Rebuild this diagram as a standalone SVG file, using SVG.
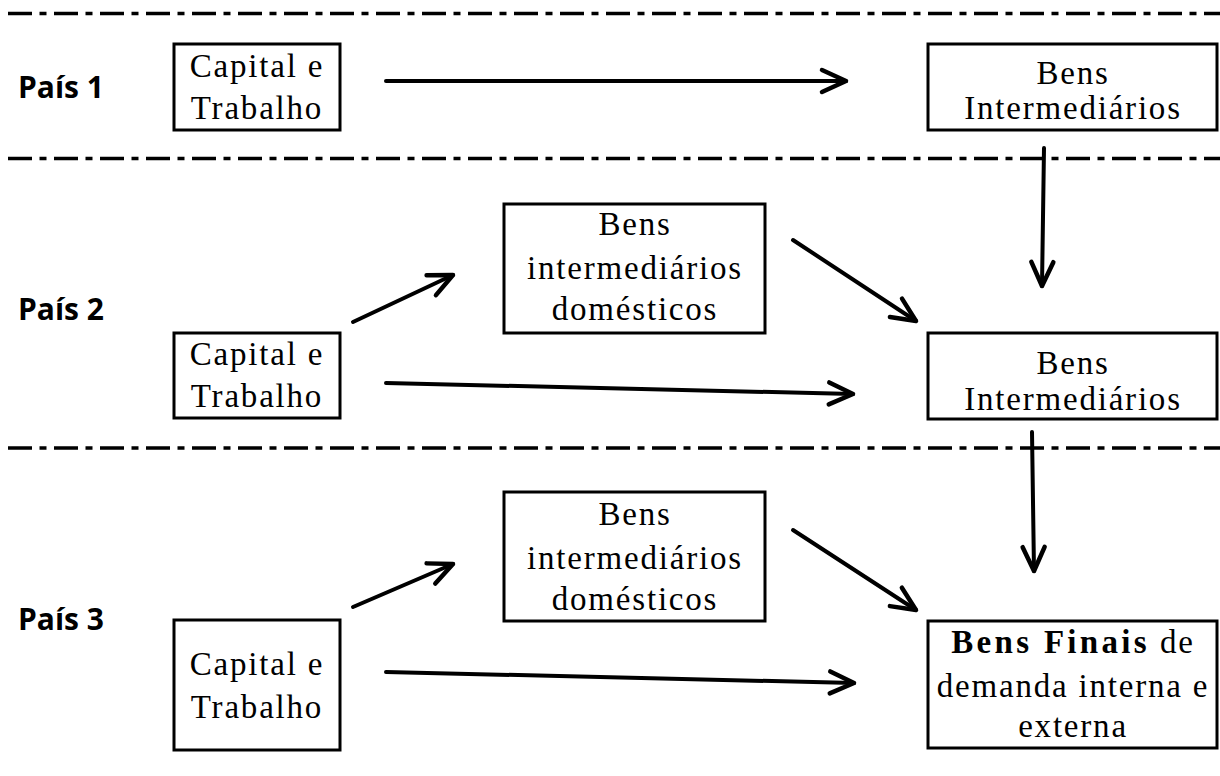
<svg xmlns="http://www.w3.org/2000/svg" width="1220" height="776" viewBox="0 0 1220 776">
<style>
.sep{stroke:#000;stroke-width:3.5;stroke-dasharray:24 7.5 7 7.5;fill:none}
.box{fill:#fff;stroke:#000;stroke-width:3}
.t{font-family:"Liberation Serif","Times New Roman",serif;font-size:33px;letter-spacing:1.8px;text-anchor:middle;fill:#000}
.lbl{font-family:"Open Sans","DejaVu Sans",sans-serif;font-weight:700;font-size:30px;fill:#000}
.arr{stroke:#000;stroke-width:4;fill:none;stroke-linecap:round;marker-end:url(#head)}
</style>
<defs>
<marker id="head" markerUnits="userSpaceOnUse" orient="auto" refX="0" refY="0" markerWidth="40" markerHeight="40" viewBox="-30 -20 40 40" overflow="visible">
<path d="M-24,-11 L0,0 L-24,11" fill="none" stroke="#000" stroke-width="4.5" stroke-linecap="round" stroke-linejoin="round"/>
</marker>
</defs>
<rect width="1220" height="776" fill="#fff"/>
<g id="separators">
<line class="sep" x1="8" y1="13.5" x2="1220" y2="13.5"/>
<line class="sep" x1="8" y1="158.5" x2="1220" y2="158.5"/>
<line class="sep" x1="8" y1="448" x2="1220" y2="448"/>
</g>
<g id="labels">
<text class="lbl" x="18" y="98">País 1</text>
<text class="lbl" x="18" y="320">País 2</text>
<text class="lbl" x="18" y="630">País 3</text>
</g>
<g id="connectors">
<line class="arr" x1="386" y1="81" x2="846" y2="81"/>
<line class="arr" x1="1044" y1="148" x2="1042" y2="286"/>
<line class="arr" x1="353" y1="322" x2="453" y2="275"/>
<line class="arr" x1="793" y1="240" x2="916" y2="321"/>
<line class="arr" x1="386" y1="383" x2="853" y2="394"/>
<line class="arr" x1="1032" y1="432" x2="1034" y2="571"/>
<line class="arr" x1="353" y1="607" x2="453" y2="564"/>
<line class="arr" x1="793" y1="530" x2="916" y2="610"/>
<line class="arr" x1="386" y1="672" x2="854" y2="683"/>
</g>
<g id="capital1">
<rect class="box" x="174" y="44" width="166" height="86"/>
<text class="t" x="257" y="77">Capital e</text>
<text class="t" x="257" y="119">Trabalho</text>
</g>
<g id="bensInt1">
<rect class="box" x="928" y="44" width="289" height="86"/>
<text class="t" x="1073" y="84">Bens</text>
<text class="t" x="1073" y="119">Intermediários</text>
</g>
<g id="domesticos2">
<rect class="box" x="504" y="204" width="261" height="129"/>
<text class="t" x="635" y="235">Bens</text>
<text class="t" x="635" y="279">intermediários</text>
<text class="t" x="635" y="320">domésticos</text>
</g>
<g id="capital2">
<rect class="box" x="174" y="333" width="166" height="85"/>
<text class="t" x="257" y="365">Capital e</text>
<text class="t" x="257" y="407">Trabalho</text>
</g>
<g id="bensInt2">
<rect class="box" x="928" y="333" width="289" height="86"/>
<text class="t" x="1073" y="374">Bens</text>
<text class="t" x="1073" y="410">Intermediários</text>
</g>
<g id="domesticos3">
<rect class="box" x="504" y="492" width="261" height="129"/>
<text class="t" x="635" y="525">Bens</text>
<text class="t" x="635" y="569">intermediários</text>
<text class="t" x="635" y="610">domésticos</text>
</g>
<g id="capital3">
<rect class="box" x="174" y="620" width="166" height="130"/>
<text class="t" x="257" y="675">Capital e</text>
<text class="t" x="257" y="718">Trabalho</text>
</g>
<g id="bensFinais">
<rect class="box" x="928" y="621" width="289" height="127"/>
<text class="t" x="1073" y="653"><tspan font-weight="bold" letter-spacing="3.3">Bens Finais</tspan> de</text>
<text class="t" x="1073" y="697">demanda interna e</text>
<text class="t" x="1073" y="737">externa</text>
</g>
</svg>
